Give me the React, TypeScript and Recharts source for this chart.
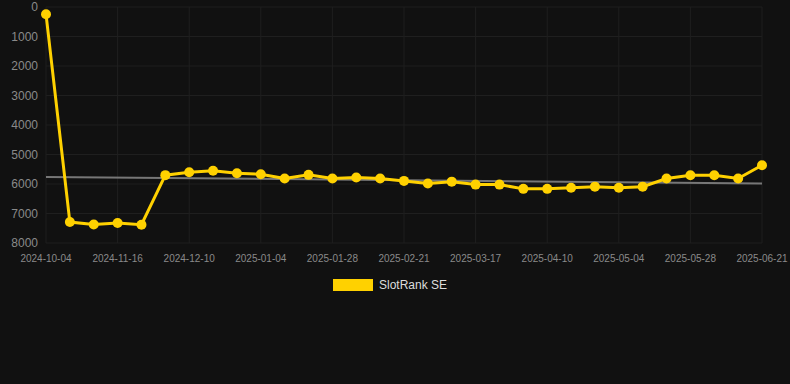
import React from "react";
import { LineChart, Line, XAxis, YAxis, CartesianGrid, Legend } from "recharts";

const dates = [
  "2024-10-04", "2024-10-18", "2024-11-01", "2024-11-16", "2024-11-24", "2024-12-02",
  "2024-12-10", "2024-12-18", "2024-12-26", "2025-01-04", "2025-01-12", "2025-01-20",
  "2025-01-28", "2025-02-05", "2025-02-13", "2025-02-21", "2025-03-01", "2025-03-09",
  "2025-03-17", "2025-03-25", "2025-04-02", "2025-04-10", "2025-04-18", "2025-04-26",
  "2025-05-04", "2025-05-12", "2025-05-20", "2025-05-28", "2025-06-05", "2025-06-13",
  "2025-06-21",
];

const ranks = [
  243, 7290, 7370, 7325, 7380, 5700, 5600, 5550, 5635, 5670, 5815, 5690, 5815, 5780,
  5815, 5895, 5985, 5920, 6020, 6020, 6165, 6165, 6130, 6090, 6130, 6090, 5815, 5705,
  5705, 5815, 5365,
];

const trendStart = 5760;
const trendEnd = 5985;

const xTicks = [
  "2024-10-04", "2024-11-16", "2024-12-10", "2025-01-04", "2025-01-28", "2025-02-21",
  "2025-03-17", "2025-04-10", "2025-05-04", "2025-05-28", "2025-06-21",
];

const yTicks = [0, 1000, 2000, 3000, 4000, 5000, 6000, 7000, 8000];

const data = dates.map((d, i) => ({
  date: d,
  rank: ranks[i],
  trend: i === 0 ? trendStart : i === dates.length - 1 ? trendEnd : null,
}));

const LegendContent = () => (
  <div style={{ display: "flex", justifyContent: "center", alignItems: "center", height: 24 }}>
    <div style={{ width: 40, height: 12, background: "#FFD100", marginRight: 6, marginLeft: 18 }} />
    <span style={{ color: "#dddddd", fontSize: 12 }}>SlotRank SE</span>
  </div>
);

export default function App() {
  return (
    <div
      style={{
        position: "absolute",
        left: 0,
        top: 0,
        width: 790,
        height: 384,
        background: "#111111",
        fontFamily: "'Liberation Sans', Arial, sans-serif",
      }}
    >
      <LineChart
        width={790}
        height={302}
        data={data}
        margin={{ top: 7, right: 28, left: 0, bottom: 5 }}
        style={{ overflow: "visible" }}
      >
        <CartesianGrid stroke="#1f1f1f" strokeWidth={1} />
        <XAxis
          dataKey="date"
          ticks={xTicks}
          interval={0}
          axisLine={false}
          tickLine={false}
          height={30}
          tickMargin={6}
          tick={{ fill: "#8a8a8a", fontSize: 10 }}
        />
        <YAxis
          reversed
          domain={[0, 8000]}
          ticks={yTicks}
          interval={0}
          width={46}
          axisLine={false}
          tickLine={false}
          tick={{ fill: "#8a8a8a", fontSize: 12 }}
        />
        <Legend verticalAlign="bottom" content={<LegendContent />} />
        <Line
          dataKey="trend"
          stroke="#777777"
          strokeWidth={2}
          dot={false}
          connectNulls
          isAnimationActive={false}
          legendType="none"
        />
        <Line
          dataKey="rank"
          stroke="#FFD100"
          strokeWidth={3}
          dot={{ r: 5, fill: "#FFD100", stroke: "#FFD100", strokeWidth: 0 }}
          activeDot={false}
          isAnimationActive={false}
        />
      </LineChart>
    </div>
  );
}
